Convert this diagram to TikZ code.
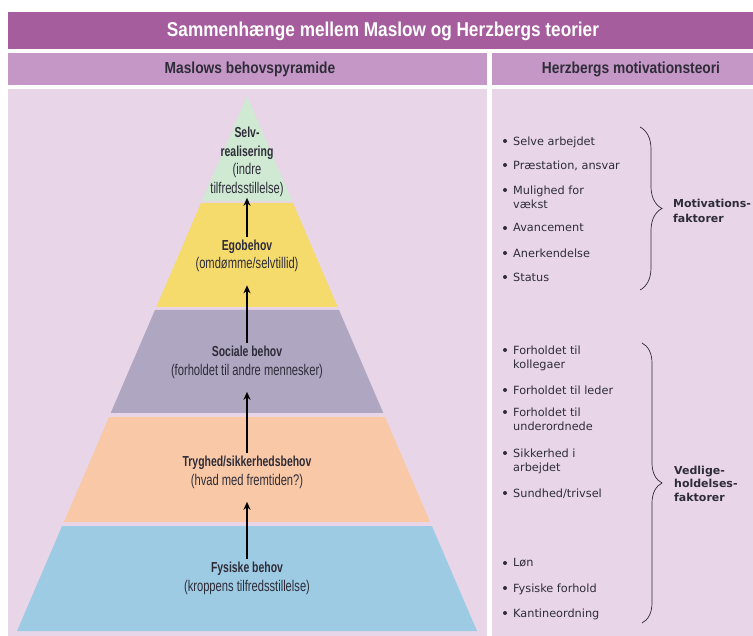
\documentclass[tikz,border=0pt]{standalone}
\usepackage{fontspec}
\setmainfont{Liberation Sans}
\newfontfamily\condf[FakeStretch=0.72]{Liberation Sans}
\newfontfamily\titlef[FakeStretch=0.86]{Liberation Sans}
\newfontfamily\itemf{DejaVu Sans}
\usetikzlibrary{arrows.meta,decorations.pathreplacing}
\definecolor{titlebg}{HTML}{A55D9D}
\definecolor{headbg}{HTML}{C597C6}
\definecolor{bodybg}{HTML}{E8D6E8}
\definecolor{pgreen}{HTML}{CFE9D3}
\definecolor{pyellow}{HTML}{F5DB6B}
\definecolor{pgrey}{HTML}{AFA6C1}
\definecolor{ppeach}{HTML}{F9C9A7}
\definecolor{pblue}{HTML}{9ECBE4}
\definecolor{txt}{HTML}{2E2C38}
\newcommand\bl[1]{{\fontsize{14.5}{18.5}\selectfont\bfseries #1}}
\tikzset{
  plabel/.style={font=\condf\fontsize{15.5}{18.5}\selectfont, align=center, text=txt, inner sep=0pt},
  parrow/.style={line width=1.4pt, -{Stealth[length=8pt,width=7pt]}, black, shorten <=3pt},
  item/.style={font=\itemf\fontsize{11.3}{14.5}\selectfont, anchor=north west, align=left, text=txt, inner sep=0pt},
  flabel/.style={font=\itemf\bfseries\fontsize{11}{15}\selectfont, anchor=north west, align=left, text=txt, inner sep=0pt},
  bracestyle/.style={decorate, draw=txt, line width=0.7pt},
  headtext/.style={font=\titlef\bfseries\fontsize{16}{16}\selectfont, text=txt, inner sep=0pt},
}
\begin{document}
\begin{tikzpicture}[x=1pt,y=-1pt]
\fill[white] (0,0) rectangle (753,636);
\useasboundingbox (0,0) rectangle (753,636);
% frames
\fill[titlebg] (8,12) rectangle (753,49);
\fill[headbg] (8,53) rectangle (487,85);
\fill[headbg] (492,53) rectangle (753,85);
\fill[bodybg] (8,89) rectangle (487,636);
\fill[bodybg] (492,89) rectangle (753,636);
\node[font=\titlef\bfseries\fontsize{20}{20}\selectfont, text=white, inner sep=0pt] (title) at (383,31) {Sammenhænge mellem Maslow og Herzbergs teorier};
\node[headtext] (hleft) at (250,69) {Maslows behovspyramide};
\node[headtext] (hright) at (631,69) {Herzbergs motivationsteori};
% pyramid
\fill[pgreen] (247,96) -- (292.1,201) -- (201.9,201) -- cycle;
\fill[pyellow] (201,203) -- (293,203) -- (337.7,307) -- (156.3,307) -- cycle;
\fill[pgrey] (155,310) -- (339,310) -- (383.3,413) -- (110.7,413) -- cycle;
\fill[ppeach] (109,417) -- (385,417) -- (430.1,522) -- (63.9,522) -- cycle;
\fill[pblue] (62.1,526) -- (431.9,526) -- (477,631) -- (17,631) -- cycle;
% labels
\node[plabel] (selv) at (247,162) {\bl{Selv-}\\\bl{realisering}\\(indre\\tilfredsstillelse)};
\node[plabel] (ego) at (247,256) {\bl{Egobehov}\\(omdømme/selvtillid)};
\node[plabel] (soc) at (247,362.5) {\bl{Sociale behov}\\(forholdet til andre mennesker)};
\node[plabel] (try) at (247,472.5) {\bl{Tryghed/sikkerhedsbehov}\\(hvad med fremtiden?)};
\node[plabel] (fys) at (247,578.5) {\bl{Fysiske behov}\\(kroppens tilfredsstillelse)};
\draw[parrow, shorten >=13pt] (fys) -- (try);
\draw[parrow, shorten >=13pt] (try) -- (soc);
\draw[parrow, shorten >=13pt] (soc) -- (ego);
\draw[parrow, shorten >=1pt] (ego) -- (selv);
% Herzberg items
\foreach \y/\t/\n in {141/{Selve arbejdet}/m1, 165/{Præstation, ansvar}/m2, 190/{Mulighed for\\vækst}/m3, 228/{Avancement}/m4, 253/{Anerkendelse}/m5, 277/{Status}/m6,
  350/{Forholdet til\\kollegaer}/v1, 390/{Forholdet til leder}/v2, 412/{Forholdet til\\underordnede}/v3, 453/{Sikkerhed i\\arbejdet}/v4, 493/{Sundhed/trivsel}/v5, 563/{Løn}/v6, 588/{Fysiske forhold}/v7, 613/{Kantineordning}/v8}{
  \fill[txt] (505,\y) circle (2);
  \node[item] (\n) at (513,\y-4.5) {\t};
}
\coordinate (mt) at (640,127);
\coordinate (mb) at (640,290);
\draw[bracestyle, decoration={brace, amplitude=22pt}] (mt) -- (mb);
\coordinate (vt) at (642,343);
\coordinate (vb) at (642,623);
\draw[bracestyle, decoration={brace, amplitude=20pt}] (vt) -- (vb);
\node[flabel] (mot) at (673,198.5) {Motivations-\\faktorer};
\node[flabel, font=\itemf\bfseries\fontsize{11}{13.5}\selectfont] (ved) at (674,465.5) {Vedlige-\\holdelses-\\faktorer};
\end{tikzpicture}
\end{document}
